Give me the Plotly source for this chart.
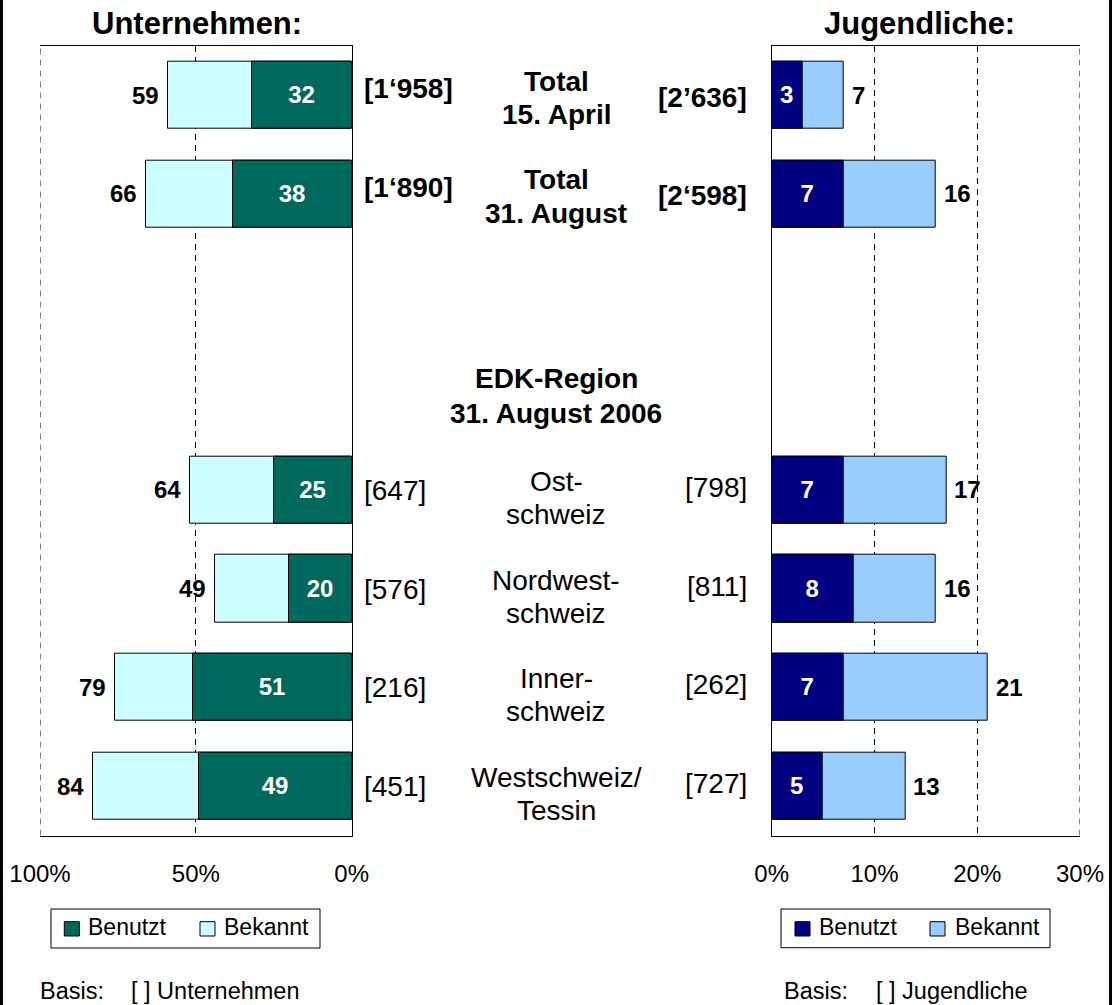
import plotly.graph_objects as go

# ---------------- data ----------------
row_lines = [["Total", "15. April"], ["Total", "31. August"], [], ["EDK-Region", "31. August 2006"],
             ["Ost-", "schweiz"], ["Nordwest-", "schweiz"], ["Inner-", "schweiz"], ["Westschweiz/", "Tessin"]]
bold_rows = [0, 1, 3]
bar_rows = [0, 1, 4, 5, 6, 7]

unt_benutzt = [32, 38, 25, 20, 51, 49]
unt_bekannt_bar = [59, 66, 52, 44, 76, 83]
unt_bekannt_label = [59, 66, 64, 49, 79, 84]
unt_basis = ["[1‘958]", "[1‘890]", "[647]", "[576]", "[216]", "[451]"]

jug_benutzt = [3, 7, 7, 8, 7, 5]
jug_bekannt = [7, 16, 17, 16, 21, 13]
jug_basis = ["[2’636]", "[2‘598]", "[798]", "[811]", "[262]", "[727]"]

unt_tickvals = [100, 50, 0]
jug_tickvals = [0, 10, 20, 30]
legend_labels = ["Benutzt", "Bekannt"]

# ---------------- style ----------------
W, H = 1112, 1005
FONT = "Arial, 'Liberation Sans', sans-serif"
C_UNT = ["#00695E", "#CCFFFF"]
C_JUG = ["#000080", "#99CCFF"]
DASH = "6px,5px"

PLOT_TOP, PLOT_BOT = 45.7, 835.5
L_DOM = [40 / W, 351.7 / W]
R_DOM = [771.7 / W, 1080 / W]
Y_DOM = [1 - PLOT_BOT / H, 1 - PLOT_TOP / H]


def px(x):
    return x / W


def py(y):
    return 1 - y / H


fig = go.Figure()

bar_line = dict(color="black", width=1)
# Unternehmen
fig.add_trace(go.Bar(y=bar_rows, x=unt_bekannt_bar, orientation="h", width=0.68,
                     marker=dict(color=C_UNT[1], line=bar_line), xaxis="x", yaxis="y",
                     hoverinfo="skip", showlegend=False))
fig.add_trace(go.Bar(y=bar_rows, x=unt_benutzt, orientation="h", width=0.68,
                     marker=dict(color=C_UNT[0], line=bar_line), xaxis="x", yaxis="y",
                     text=[f"<b>{v}</b>" for v in unt_benutzt], textposition="inside",
                     insidetextanchor="middle", constraintext="none", textangle=0,
                     textfont=dict(color="white", size=24, family=FONT),
                     hoverinfo="skip", showlegend=False))
# Jugendliche
fig.add_trace(go.Bar(y=bar_rows, x=jug_bekannt, orientation="h", width=0.68,
                     marker=dict(color=C_JUG[1], line=bar_line), xaxis="x2", yaxis="y2",
                     hoverinfo="skip", showlegend=False))
fig.add_trace(go.Bar(y=bar_rows, x=jug_benutzt, orientation="h", width=0.68,
                     marker=dict(color=C_JUG[0], line=bar_line), xaxis="x2", yaxis="y2",
                     text=[f"<b>{v}</b>" for v in jug_benutzt], textposition="inside",
                     insidetextanchor="middle", constraintext="none", textangle=0,
                     textfont=dict(color="white", size=24, family=FONT),
                     hoverinfo="skip", showlegend=False))

annotations = []
shapes = []

# outside labels
for r, xb, lab in zip(bar_rows, unt_bekannt_bar, unt_bekannt_label):
    annotations.append(dict(x=xb, y=r, xref="x", yref="y", text=f"<b>{lab}</b>", showarrow=False,
                            xanchor="right", yanchor="middle", xshift=-8, borderpad=0,
                            font=dict(size=24, color="black", family=FONT)))
for r, xb in zip(bar_rows, jug_bekannt):
    annotations.append(dict(x=xb, y=r, xref="x2", yref="y2", text=f"<b>{xb}</b>", showarrow=False,
                            xanchor="left", yanchor="middle", xshift=7, borderpad=0,
                            font=dict(size=24, color="black", family=FONT)))

# basis labels
for r, tl, tr in zip(bar_rows, unt_basis, jug_basis):
    bold = r in bold_rows
    fl = dict(size=28, color="black", family=FONT)
    annotations.append(dict(x=px(362.7), y=r, xref="paper", yref="y",
                            text=f"<b>{tl}</b>" if bold else tl, showarrow=False,
                            xanchor="left", yanchor="middle", borderpad=0,
                            yshift=6.3 if bold else -0.5, font=fl))
    annotations.append(dict(x=px(747.5), y=r, xref="paper", yref="y",
                            text=f"<b>{tr}</b>" if bold else tr, showarrow=False,
                            xanchor="right", yanchor="middle", borderpad=0,
                            yshift=-2 if bold else 2.5, font=fl))

# middle row labels
for r, lines in enumerate(row_lines):
    if not lines:
        continue
    if r in (0, 1):
        offs = [-14, 19.5]
    elif r == 3:
        offs = [-12.5, 22.5]
    else:
        offs = [-8.5, 24.5]
    bold = r in bold_rows
    for line, off in zip(lines, offs):
        annotations.append(dict(x=px(556), y=r, xref="paper", yref="y",
                                text=f"<b>{line}</b>" if bold else line, showarrow=False,
                                xanchor="center", yanchor="middle", borderpad=0, yshift=-off,
                                font=dict(size=28, color="black", family=FONT)))

# titles
for txt, xc in (("Unternehmen:", 196.7), ("Jugendliche:", 919)):
    annotations.append(dict(x=px(xc), y=py(23), xref="paper", yref="paper", text=f"<b>{txt}</b>",
                            showarrow=False, xanchor="center", yanchor="middle", borderpad=0,
                            font=dict(size=31, color="black", family=FONT)))

# legends (manual)
for box, sq_x, tx_x, cols in (((51, 909, 320, 948), (64.3, 200), (87.3, 222.7), C_UNT),
                              ((781, 909, 1050, 947.7), (795, 930), (818.3, 954.3), C_JUG)):
    shapes.append(dict(type="rect", xref="paper", yref="paper", x0=px(box[0]), x1=px(box[2]),
                       y0=py(box[3]), y1=py(box[1]), line=dict(color="black", width=1),
                       fillcolor="white"))
    for sx, tx, col, lab in zip(sq_x, tx_x, cols, legend_labels):
        shapes.append(dict(type="rect", xref="paper", yref="paper", x0=px(sx), x1=px(sx + 15),
                           y0=py(936), y1=py(921.7), line=dict(color="black", width=1),
                           fillcolor=col))
        annotations.append(dict(x=px(tx), y=py(927), xref="paper", yref="paper", text=lab,
                                showarrow=False, xanchor="left", yanchor="middle", borderpad=0,
                                font=dict(size=23, color="black", family=FONT)))

# Basis footers
for bx, tx, txt in ((39.3, 130, "[ ] Unternehmen"), (783.3, 875, "[ ] Jugendliche")):
    for x0, t in ((bx, "Basis:"), (tx, txt)):
        annotations.append(dict(x=px(x0), y=py(990.5), xref="paper", yref="paper", text=t,
                                showarrow=False, xanchor="left", yanchor="middle", borderpad=0,
                                font=dict(size=23.5, color="black", family=FONT)))

# dashed edge gridlines (plotly clips grid at the range ends)
shapes.append(dict(type="line", xref="x", yref="y domain", x0=100, x1=100, y0=0, y1=1,
                   line=dict(color="black", width=1, dash=DASH)))
shapes.append(dict(type="line", xref="x2", yref="y2 domain", x0=30, x1=30, y0=0, y1=1,
                   line=dict(color="black", width=1, dash=DASH)))
# black side bands
shapes.append(dict(type="rect", xref="paper", yref="paper", x0=0, x1=px(3), y0=0, y1=1,
                   fillcolor="black", line=dict(width=0)))
shapes.append(dict(type="rect", xref="paper", yref="paper", x0=px(1109), x1=1, y0=0, y1=1,
                   fillcolor="black", line=dict(width=0)))

xcommon = dict(showgrid=True, gridcolor="black", gridwidth=1, griddash=DASH, zeroline=False,
               showline=True, linecolor="black", linewidth=1, mirror=True, ticks="",
               ticklabelstandoff=17, tickfont=dict(size=24, color="black", family=FONT),
               fixedrange=True, automargin=False)
ycommon = dict(domain=Y_DOM, range=[7.5, -0.5], showgrid=False, zeroline=False, showticklabels=False,
               ticks="", showline=True, linecolor="black", linewidth=1, mirror=False, fixedrange=True,
               automargin=False)

fig.update_layout(
    width=W, height=H, autosize=False,
    margin=dict(l=0, r=0, t=0, b=0, pad=0, autoexpand=False),
    paper_bgcolor="white", plot_bgcolor="white",
    barmode="overlay", bargap=0, showlegend=False,
    font=dict(family=FONT, color="black"),
    xaxis=dict(domain=L_DOM, range=[100, 0], anchor="y", tickvals=unt_tickvals,
               ticktext=[f"{v}%" for v in unt_tickvals], **xcommon),
    yaxis=dict(anchor="x", side="right", **ycommon),
    xaxis2=dict(domain=R_DOM, range=[0, 30], anchor="y2", tickvals=jug_tickvals,
                ticktext=[f"{v}%" for v in jug_tickvals], **xcommon),
    yaxis2=dict(anchor="x2", side="left", **ycommon),
    annotations=annotations,
    shapes=shapes,
)

fig.write_html("out.html", config={"displayModeBar": False},
               post_script="document.body.style.margin='0';document.body.style.overflow='hidden';")
